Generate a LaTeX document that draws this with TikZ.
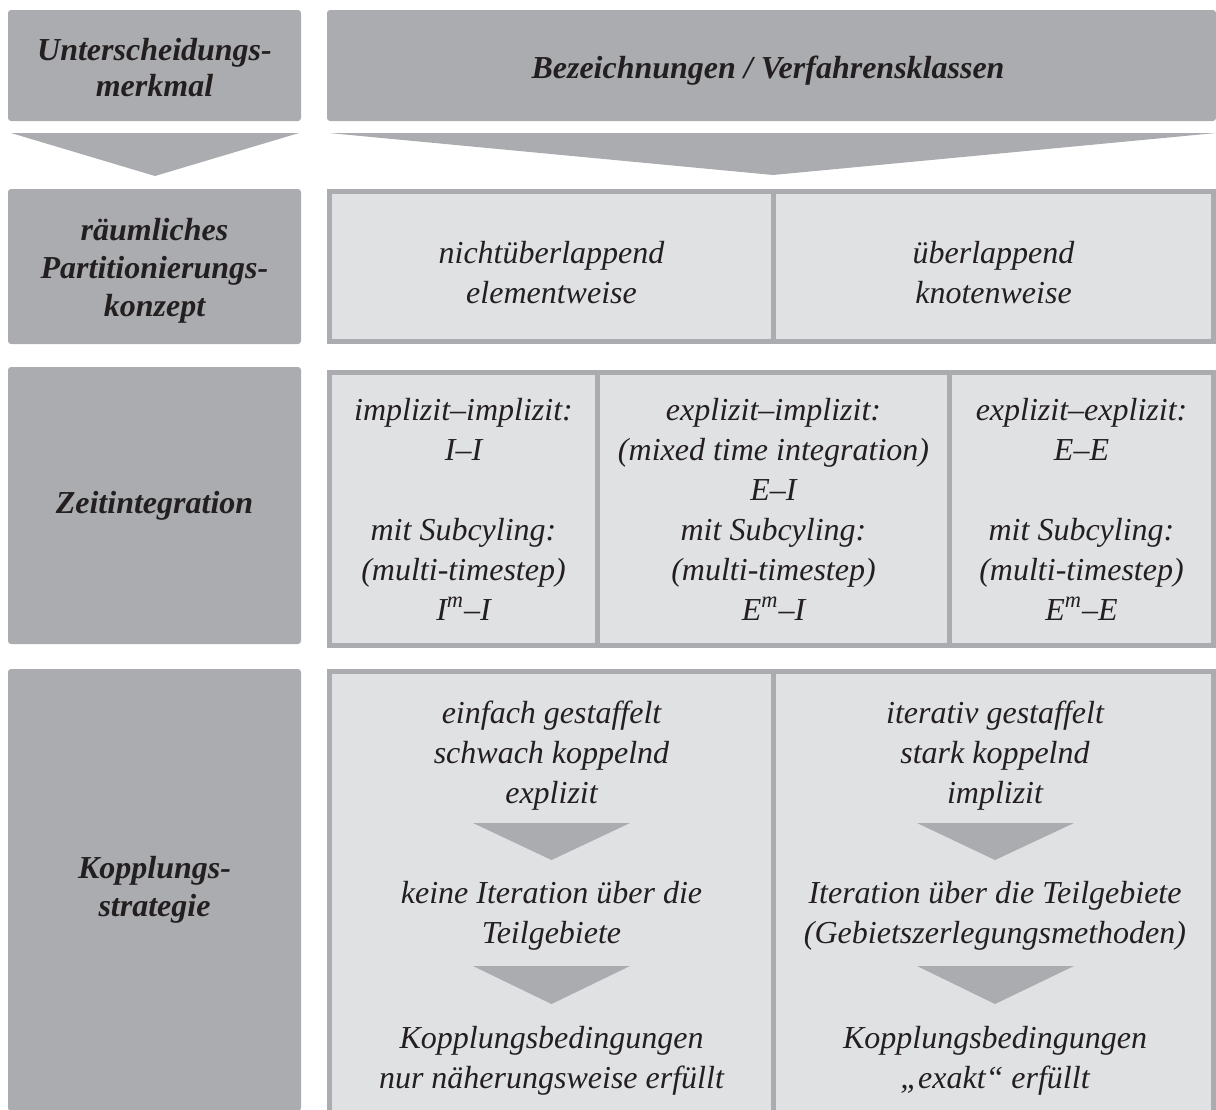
\documentclass[tikz,border=0pt]{standalone}
\usepackage{fontspec}
\setmainfont{Liberation Serif}
\usepackage{tikz}
\usetikzlibrary{positioning}
\definecolor{merkmalgrau}{RGB}{171,172,175}
\definecolor{klassengrau}{RGB}{224,225,227}
\definecolor{schrift}{RGB}{35,31,32}

\begin{document}
\begin{tikzpicture}[
    x=0.5pt, y=-0.5pt,
    every node/.style={text=schrift, inner sep=0pt, align=center,
      font=\fontsize{16}{20}\selectfont\itshape},
    merkmal/.style={fill=merkmalgrau, rounded corners=1.5pt,
      minimum width=146.5pt},
    kopf/.style={font=\fontsize{16}{19}\selectfont\bfseries\itshape},
    klasse/.style={draw=merkmalgrau, fill=klassengrau, line width=2.5pt},
    pfeil/.style={fill=merkmalgrau}
  ]
  \useasboundingbox (0,0) rectangle (1216,1109);
  \clip (0,0) rectangle (1216,1109);

  % Kopfzeile
  \node[merkmal, minimum height=55.5pt] (kopfmerkmal) at (154.5,65.5) {};
  \node[merkmal, minimum width=444.5pt, minimum height=55.5pt] (kopfklassen) at (771.5,65.5) {};
  \node[kopf, font=\fontsize{16}{18}\selectfont\bfseries\itshape] at (154.5,68) {Unterscheidungs-\\merkmal};
  \node[kopf] at (768,71) {Bezeichnungen / Verfahrensklassen};
  \fill[pfeil] (11,133) -- (299,133) -- (155,176) -- cycle;
  \fill[pfeil] (329,133) -- (1216,133) -- (773,175) -- cycle;

  % Partitionierung
  \node[merkmal, minimum height=77.5pt] (partmerkmal) at (154.5,266.5) {};
  \node[kopf] at (154.5,271) {räumliches\\Partitionierungs-\\konzept};
  \node[klasse, minimum width=222pt, minimum height=75pt] (nichtueber) at (551.5,266.5) {};
  \node[klasse, minimum width=220pt, minimum height=75pt] (ueber) at (993.5,266.5) {};
  \node at (551.5,273) {nichtüberlappend\\elementweise};
  \node at (993.5,273) {überlappend\\knotenweise};

  % Zeitintegration
  \node[merkmal, kopf, minimum height=138.5pt] (zeitmerkmal) at (154.5,505.5) {Zeitintegration};
  \node[klasse, minimum width=134pt, minimum height=136.5pt] (ii) at (463.5,509)
    {implizit--implizit:\\I--I\\[20pt]mit Subcyling:\\(multi-timestep)\\I\textsuperscript{m}--I};
  \node[klasse, minimum width=176pt, minimum height=136.5pt] (ei) at (773.5,509)
    {explizit--implizit:\\(mixed time integration)\\E--I\\mit Subcyling:\\(multi-timestep)\\E\textsuperscript{m}--I};
  \node[klasse, minimum width=132pt, minimum height=136.5pt] (ee) at (1081.5,509)
    {explizit--explizit:\\E--E\\[20pt]mit Subcyling:\\(multi-timestep)\\E\textsuperscript{m}--E};

  % Kopplungsstrategie
  \node[merkmal, kopf, minimum height=221pt] (koppmerkmal) at (154.5,890) {Kopplungs-\\strategie};
  \node[klasse, minimum width=222pt, minimum height=230pt] (schwach) at (551.5,901.5) {};
  \node[klasse, minimum width=220pt, minimum height=230pt] (stark) at (993.5,901.5) {};

  \node (schwachtyp) at (551.5,756) {einfach gestaffelt\\schwach koppelnd\\explizit};
  \fill[pfeil] (473,823) -- (630,823) -- (551.5,860) -- cycle;
  \node (schwachiter) at (551.5,916) {keine Iteration über die\\Teilgebiete};
  \fill[pfeil] (473,966) -- (630,966) -- (551.5,1004) -- cycle;
  \node (schwachbed) at (551.5,1061) {Kopplungsbedingungen\\nur näherungsweise erfüllt};

  \node (starktyp) at (995,756) {iterativ gestaffelt\\stark koppelnd\\implizit};
  \fill[pfeil] (917,823) -- (1074,823) -- (995,860) -- cycle;
  \node (starkiter) at (995,916) {Iteration über die Teilgebiete\\(Gebietszerlegungsmethoden)};
  \fill[pfeil] (917,966) -- (1074,966) -- (995,1004) -- cycle;
  \node (starkbed) at (995,1061) {Kopplungsbedingungen\\„exakt“ erfüllt};
\end{tikzpicture}
\end{document}
